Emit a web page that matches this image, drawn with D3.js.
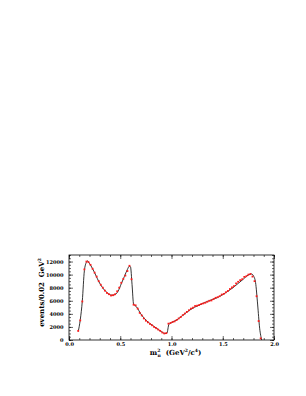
<!DOCTYPE html>
<html>
<head>
<meta charset="utf-8">
<script src="https://cdn.jsdelivr.net/npm/d3@7"></script>
<style>
  body { margin: 0; background: #fff; }
  .tick text { font-family: "DejaVu Serif", serif; font-weight: bold; font-size: 5px; fill: #000; }
  .lbl { font-family: "DejaVu Serif", serif; font-weight: bold; font-size: 7px; fill: #000; }
</style>
</head>
<body>
<div id="chart"></div>
<script>
// bin centres (GeV^2/c^4), 0.02 wide
const massBins = d3.range(90).map(i => +(0.09 + i * 0.02).toFixed(2))

// measured events per bin (red points)
const events = [
  1400, 3000, 5900, 10800, 12000, 11900, 11500, 10900, 10300, 9700,
  9000, 8450, 8000, 7550, 7200, 7000, 6800, 6850, 7000, 7450,
  8000, 8750, 9350, 9850, 10550, 11350, 9300, 5400, 5300, 4800,
  4150, 3750, 3300, 2950, 2700, 2450, 2250, 2000, 1800, 1600,
  1400, 1150, 1000, 1050, 2500, 2600, 2750, 2850, 3050, 3300,
  3500, 3800, 4050, 4300, 4550, 4800, 4950, 5200, 5250, 5350,
  5500, 5600, 5700, 5850, 6000, 6050, 6250, 6450, 6550, 6700,
  6950, 7050, 7300, 7500, 7800, 8050, 8250, 8650, 8900, 9150,
  9300, 9650, 9750, 10000, 10100, 9700, 9000, 6700, 2900, 250
]

// fitted model (black curve)
const fitMass = [0.09, 0.11, 0.13, 0.15, 0.17, 0.18, 0.20, 0.23, 0.26, 0.29, 0.33, 0.36, 0.39, 0.42, 0.45, 0.48, 0.51, 0.54, 0.57, 0.59, 0.60,
  0.615, 0.63, 0.66, 0.70, 0.75, 0.80, 0.85, 0.90, 0.935, 0.955, 0.975, 1.00, 1.05, 1.10, 1.15, 1.20, 1.25, 1.30, 1.35,
  1.40, 1.45, 1.50, 1.55, 1.60, 1.65, 1.70, 1.75, 1.78, 1.80, 1.82, 1.84, 1.86, 1.88]
const fitEvents = [1300, 3100, 6000, 10600, 11900, 12100, 11700, 10900, 9950, 8950, 7950, 7400, 7000, 6850, 6950, 7500, 8600, 9700, 10800, 11300, 11200,
  8500, 5500, 5050, 4000, 3050, 2400, 1850, 1300, 1000, 1050, 2400, 2650, 3050, 3650, 4250, 4800, 5200, 5550, 5900,
  6200, 6500, 6950, 7450, 8000, 8650, 9300, 9950, 10100, 9800, 8800, 5500, 1800, 0]

const xTicks = [0.0, 0.5, 1.0, 1.5, 2.0]
const yTicks = [0, 2000, 4000, 6000, 8000, 10000, 12000]

const margin = { top: 255, left: 69, right: 32, bottom: 56 }
const W = 306, H = 396
const width = W - margin.left - margin.right
const height = H - margin.top - margin.bottom

const svg = d3.select('#chart').append('svg')
  .attr('width', W)
  .attr('height', H)
  .append('g')
    .attr('transform', `translate(${margin.left}, ${margin.top})`)

const x = d3.scaleLinear().domain([0, 2]).range([0, width])
const y = d3.scaleLinear().domain([0, 13000]).range([height, 0])

const styleAxis = g => {
  g.select('.domain').remove()
  g.selectAll('.tick line').attr('stroke', '#000').attr('stroke-width', 0.6)
}

// minor ticks first (inward)
const minorX = d3.range(0, 2.0001, 0.1)
const minorY = d3.range(0, 13001, 500)
svg.append('g').attr('transform', `translate(0,${height})`)
  .call(d3.axisBottom(x).tickValues(minorX).tickSize(-2).tickFormat('')).call(styleAxis)
svg.append('g')
  .call(d3.axisTop(x).tickValues(minorX).tickSize(-2).tickFormat('')).call(styleAxis)
svg.append('g')
  .call(d3.axisLeft(y).tickValues(minorY).tickSize(-2).tickFormat('')).call(styleAxis)
svg.append('g').attr('transform', `translate(${width},0)`)
  .call(d3.axisRight(y).tickValues(minorY).tickSize(-2).tickFormat('')).call(styleAxis)

// major ticks
svg.append('g').attr('transform', `translate(0,${height})`)
  .call(d3.axisBottom(x).tickValues(xTicks).tickSize(-4).tickPadding(2).tickFormat(d3.format('.1f'))).call(styleAxis)
svg.append('g')
  .call(d3.axisTop(x).tickValues(xTicks).tickSize(-4).tickFormat('')).call(styleAxis)
svg.append('g')
  .call(d3.axisLeft(y).tickValues(yTicks).tickSize(-4).tickPadding(5.5).tickFormat(d3.format('d'))).call(styleAxis)
svg.append('g').attr('transform', `translate(${width},0)`)
  .call(d3.axisRight(y).tickValues(yTicks).tickSize(-4).tickFormat('')).call(styleAxis)

svg.append('rect')
  .attr('width', width).attr('height', height)
  .attr('fill', 'none').attr('stroke', '#000').attr('stroke-width', 0.8)

// fit curve
const line = d3.line()
  .x(d => x(d[0]))
  .y(d => y(d[1]))
  .curve(d3.curveMonotoneX)
svg.append('path')
  .datum(fitMass.map((m, i) => [m, fitEvents[i]]))
  .attr('d', line)
  .attr('fill', 'none')
  .attr('stroke', '#000')
  .attr('stroke-width', 0.8)

// data points on top
svg.append('g').selectAll('rect')
  .data(massBins.map((m, i) => [m, events[i]]))
  .enter().append('rect')
    .attr('x', d => x(d[0]) - 0.9)
    .attr('y', d => y(d[1]) - 0.9)
    .attr('width', 1.8).attr('height', 1.8)
    .attr('fill', '#ff1a1a')

// axis titles
svg.append('text').attr('class', 'lbl')
  .attr('transform', `translate(-25, ${height / 2 - 5}) rotate(-90)`)
  .attr('text-anchor', 'middle')
  .attr('xml:space', 'preserve')
  .html('events/0.02  GeV<tspan dy="-3" font-size="4.5">2</tspan>')

svg.append('text').attr('class', 'lbl')
  .attr('x', width / 2 + 4).attr('y', height + 15)
  .attr('text-anchor', 'middle')
  .attr('xml:space', 'preserve')
  .html('m<tspan dy="-3.5" font-size="4.5">2</tspan><tspan dx="-2.8" dy="5" font-size="4.5">π</tspan><tspan dy="-1.5">  (GeV</tspan><tspan dy="-3" font-size="4.5">2</tspan><tspan dy="3">/c</tspan><tspan dy="-3" font-size="4.5">4</tspan><tspan dy="3">)</tspan>')
</script>
</body>
</html>
